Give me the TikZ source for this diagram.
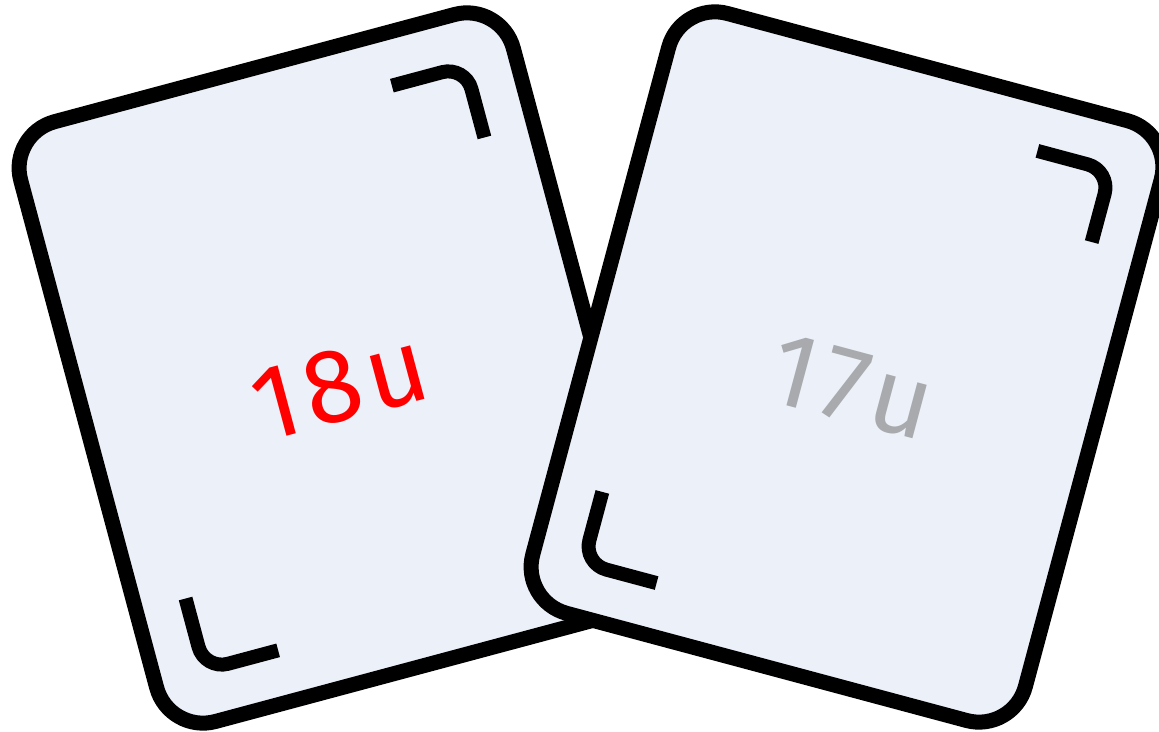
\documentclass[tikz,border=0pt]{standalone}
\usepackage{fontspec}
\newfontfamily\cardfont[LetterSpace=6]{Fira Sans}
\definecolor{cardfill}{HTML}{ECF0F9}
\definecolor{cardgray}{HTML}{A8AAAE}
\definecolor{cardred}{HTML}{FF0000}
\begin{document}
\begin{tikzpicture}[x=1pt,y=1pt,
  card/.style={draw=black, fill=cardfill, line width=15pt, rounded corners=48pt,
    minimum width=510pt, minimum height=621pt, inner sep=0pt, outer sep=0pt},
  bracket/.style={draw=black, line width=14pt, rounded corners=24pt, line cap=butt},
  cardtext/.style={font=\cardfont\fontsize{105}{105}\selectfont, inner sep=0pt}]
\useasboundingbox (0,0) rectangle (1159,731);
% left card
\node[card, rotate=15] (L) at (335,363) {};
\begin{scope}[shift={(335,363)}, rotate=15]
  \coordinate (la1) at (128,258); \coordinate (la2) at (204,258); \coordinate (la3) at (204,184);
  \coordinate (lb1) at (-128,-258); \coordinate (lb2) at (-204,-258); \coordinate (lb3) at (-204,-184);
  \draw[bracket] (la1) -- (la2) -- (la3);
  \draw[bracket] (lb1) -- (lb2) -- (lb3);
  \node[cardtext, text=cardred, rotate=15] (lt) at (0,-18) {18u};
\end{scope}
% right card
\node[card, rotate=-15] (R) at (847,364) {};
\begin{scope}[shift={(847,364)}, rotate=-15]
  \coordinate (ra1) at (128,258); \coordinate (ra2) at (204,258); \coordinate (ra3) at (204,184);
  \coordinate (rb1) at (-128,-258); \coordinate (rb2) at (-204,-258); \coordinate (rb3) at (-204,-184);
  \draw[bracket] (ra1) -- (ra2) -- (ra3);
  \draw[bracket] (rb1) -- (rb2) -- (rb3);
  \node[cardtext, text=cardgray, rotate=-15] (rt) at (10,-18) {17u};
\end{scope}
\end{tikzpicture}
\end{document}
